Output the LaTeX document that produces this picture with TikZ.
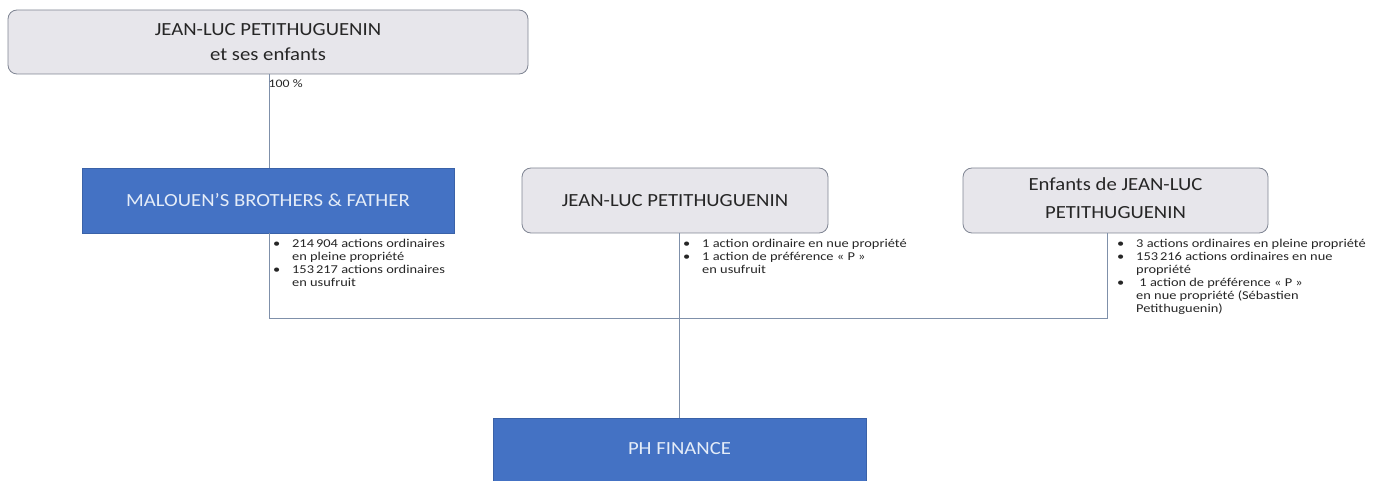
\documentclass[tikz,border=0pt]{standalone}
\usepackage{fontspec}
\setmainfont{Carlito}[FakeStretch=1.12]
\newfontfamily\notefont{Carlito}[FakeStretch=1.2]
\definecolor{boxgray}{HTML}{E7E6EB}
\definecolor{bordgray}{HTML}{7F8593}
\definecolor{bluefill}{HTML}{4472C4}
\definecolor{blueedge}{HTML}{3A62A8}
\definecolor{bluetext}{HTML}{E4ECF8}
\definecolor{linecol}{HTML}{7F90AA}
\tikzset{
  graybox/.style={draw=bordgray, fill=boxgray, rounded corners=9pt, line width=0.8pt, align=center, font=\fontsize{18.5}{25}\selectfont, text=black!85, inner sep=0pt},
  bluebox/.style={draw=blueedge, fill=bluefill, line width=0.6pt, align=center, font=\fontsize{18.5}{22}\selectfont, text=bluetext, inner sep=0pt},
  conn/.style={draw=linecol, line width=0.9pt},
  notes/.style={anchor=north west, align=left, font=\notefont\fontsize{12}{13}\selectfont, inner sep=0pt, text=black!85},
}
\newcommand{\bul}{\makebox[20pt][l]{\hspace*{1pt}\textbullet}}
\newcommand{\ind}{\hspace*{20pt}}
\begin{document}
\begin{tikzpicture}[x=1pt,y=-1pt]
\useasboundingbox (0,0) rectangle (1374,481);
% boxes
\node[graybox, minimum width=520pt, minimum height=64pt] (top) at (268,42) {JEAN-LUC PETITHUGUENIN\\et ses enfants};
\node[bluebox, minimum width=372pt, minimum height=65pt] (mal) at (268,200.5) {MALOUEN’S BROTHERS \& FATHER};
\node[graybox, minimum width=306pt, minimum height=65pt] (jlp) at (675,200.5) {JEAN-LUC PETITHUGUENIN};
\node[graybox, minimum width=305pt, minimum height=65pt] (enf) at (1115.5,200.5) {};
\node[font=\fontsize{18.5}{28}\selectfont, text=black!85, align=center, inner sep=0pt] (enft) at (1115.5,198.5) {Enfants de JEAN-LUC\\PETITHUGUENIN};
\path[fill=bluefill, draw=blueedge, line width=0.6pt] (493,418) rectangle (866,483);
\node[font=\fontsize{18.5}{22}\selectfont, text=bluetext] (phf) at (679.5,449) {PH FINANCE};
\coordinate (phtop) at (679.5,418);
% connectors
\coordinate (a1) at (269,74);
\coordinate (a2) at (269,168);
\draw[conn] (a1) -- (a2);
\node[anchor=north west, font=\notefont\fontsize{11.5}{12}\selectfont, inner sep=0pt, text=black!85] (pct) at (268.5,79) {100 \%};
\coordinate (m1) at (269,233);
\coordinate (m2) at (269,318);
\coordinate (e1) at (1107,233);
\coordinate (e2) at (1107,318);
\coordinate (j1) at (679.5,233);
\draw[conn] (m1) -- (m2) -- (e2) -- (e1);
\draw[conn] (j1) -- (phtop);
% notes
\node[notes] (nm) at (272,239) {\bul 214\,904 actions ordinaires\\ \ind en pleine propriété\\ \bul 153\,217 actions ordinaires\\ \ind en usufruit};
\node[notes] (nj) at (682,239) {\bul 1 action ordinaire en nue propriété\\ \bul 1 action de préférence « P »\\ \ind en usufruit};
\node[notes] (ne) at (1116,239) {\bul 3 actions ordinaires en pleine propriété\\ \bul 153\,216 actions ordinaires en nue\\ \ind propriété\\ \bul\ 1 action de préférence « P »\\ \ind en nue propriété (Sébastien\\ \ind Petithuguenin)};
\end{tikzpicture}
\end{document}
